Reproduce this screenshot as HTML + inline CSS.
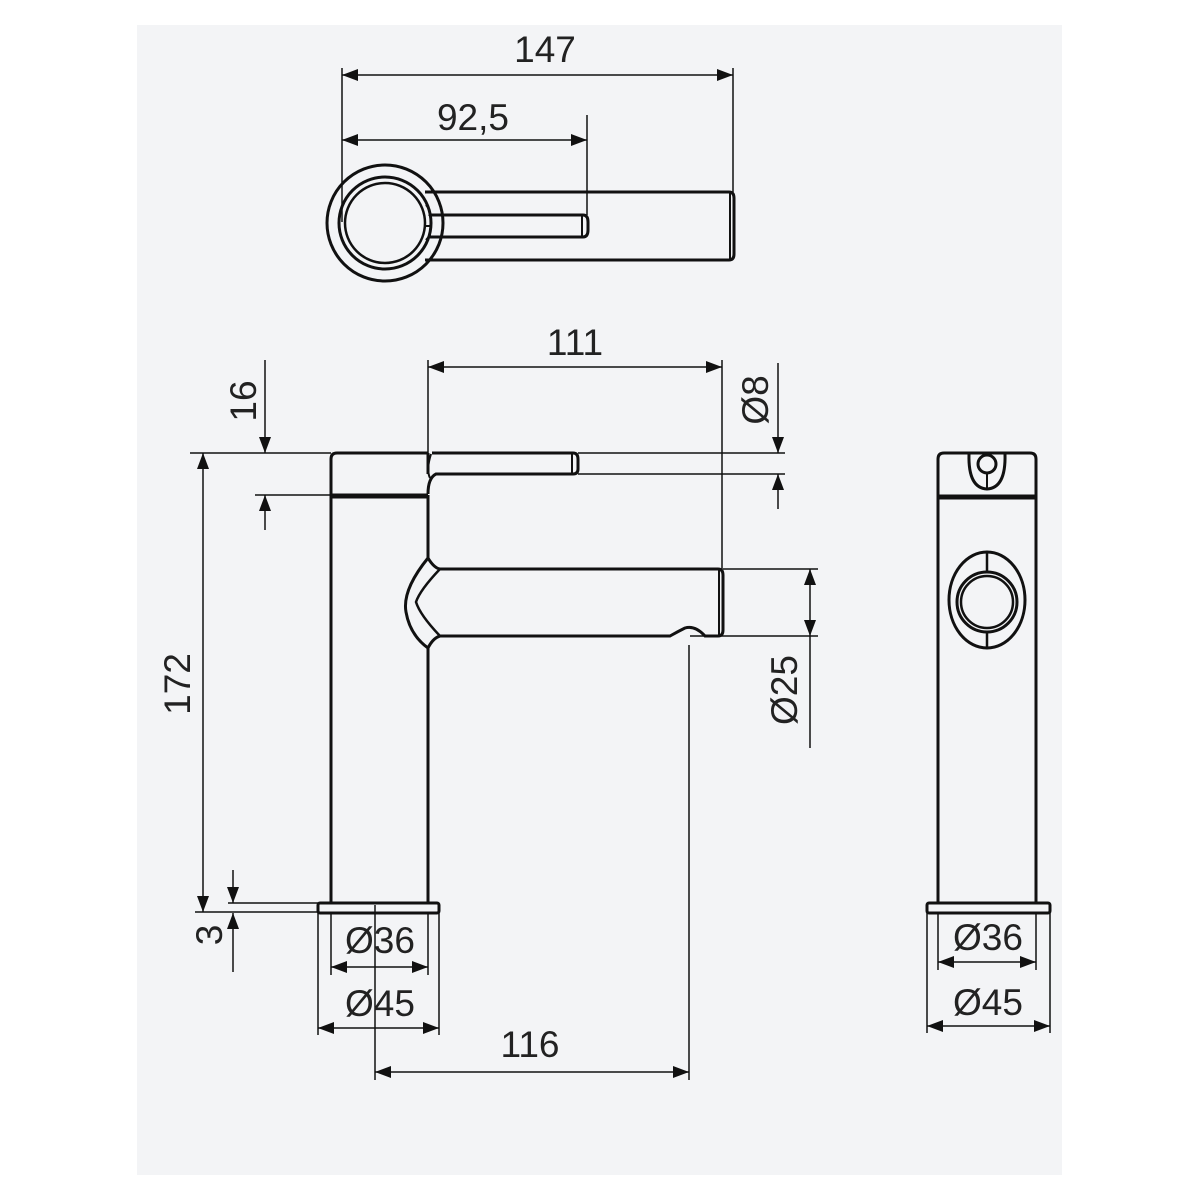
<!DOCTYPE html>
<html><head><meta charset="utf-8"><style>
html,body{margin:0;padding:0;background:#fff;}
svg{display:block;}
text{font-family:"Liberation Sans",Arial,sans-serif;font-size:37px;fill:#222;}
</style></head><body>
<svg width="1200" height="1200" viewBox="0 0 1200 1200" xmlns="http://www.w3.org/2000/svg">
<defs>
<marker id="a" viewBox="0 0 16 12" refX="16" refY="6" markerWidth="16" markerHeight="12" markerUnits="userSpaceOnUse" orient="auto-start-reverse"><path d="M0,0 L16,6 L0,12 Z" fill="#111"/></marker>
</defs>
<rect x="137" y="25" width="925" height="1150" fill="#f3f4f6"/>
<g fill="none" stroke="#111">
<!-- TOP VIEW -->
<g stroke-width="3">
<circle cx="385" cy="223" r="58"/>
<circle cx="385" cy="223" r="46"/>
<circle cx="385" cy="223" r="40" stroke-width="2.5"/>
<path d="M425,192 H729 Q734,192 734,198 V254 Q734,260 729,260 H425"/>
<path d="M730,193 V259" stroke-width="2"/>
<path d="M430,215 H583 Q588,215 588,222 V230 Q588,237 583,237 H430"/>
<path d="M582,216 V236" stroke-width="2"/>
<path d="M426,205 Q432,212 429,216 M426,240 Q432,233 429,236 M424,226 H430" stroke-width="2"/>
</g>
<g stroke-width="1.5">
<path d="M342,68 V222 M733,68 V192 M587,115 V215"/>
<path d="M342,75 H733" marker-start="url(#a)" marker-end="url(#a)"/>
<path d="M342,140 H587" marker-start="url(#a)" marker-end="url(#a)"/>
</g>
<!-- FRONT VIEW -->
<g stroke-width="3">
<path d="M331,903 V459 Q331,453 337,453 H428"/>
<path d="M428,453 V474 M428,495 V558"/>
<path d="M432,453 H573 Q578,453 578,459 V469 Q578,474 573,474 H436 Q428,478 428,494"/>
<path d="M572,454 V473" stroke-width="2"/>
<path d="M431,454 Q426,470 430,478" stroke-width="2"/>
<rect x="331" y="494" width="97" height="4" fill="#111" stroke="none"/>
<path d="M331,496 H428" stroke-width="5"/>
<path d="M428,558 Q434,568 440,569 H718 Q723,569 723,575 V630 Q723,636 718,636 H705 Q695,625 685,628 Q677,632 670,636 H440 Q433,638 428,648 V903"/>
<path d="M719,570 V635" stroke-width="2"/>
<path d="M428,558 Q402,590 406,612 Q410,635 428,648"/>
<path d="M440,569 Q420,590 416,602 Q420,615 440,636" stroke-width="2.5"/>
<rect x="318" y="903" width="121" height="10" rx="2"/>
</g>
<g stroke-width="1.5">
<!-- 111 -->
<path d="M428,360 V453 M722,360 V569"/>
<path d="M428,367 H722" marker-start="url(#a)" marker-end="url(#a)"/>
<!-- horizontal extension lines -->
<path d="M190,453 H331 M578,453 H785 M255,495 H331 M578,474 H785"/>
<!-- 16 -->
<path d="M265,360 V453" marker-end="url(#a)"/>
<path d="M265,530 V495" marker-end="url(#a)"/>
<!-- Ø8 -->
<path d="M778,363 V453" marker-end="url(#a)"/>
<path d="M778,509 V474" marker-end="url(#a)"/>
<!-- 172 -->
<path d="M203,453 V912" marker-start="url(#a)" marker-end="url(#a)"/>
<!-- 3 -->
<path d="M195,912 H318 M228,903 H318"/>
<path d="M233,870 V903" marker-end="url(#a)"/>
<path d="M233,972 V913" marker-end="url(#a)"/>
<!-- Ø25 -->
<path d="M723,569 H818 M690,636 H818"/>
<path d="M810,603 V569" marker-end="url(#a)"/>
<path d="M810,603 V636" marker-end="url(#a)"/>
<path d="M810,636 V748"/>
<!-- Ø36 Ø45 -->
<path d="M331,913 V975 M428,913 V975 M318,913 V1035 M439,913 V1035"/>
<path d="M331,967 H428" marker-start="url(#a)" marker-end="url(#a)"/>
<path d="M318,1028 H439" marker-start="url(#a)" marker-end="url(#a)"/>
<!-- 116 -->
<path d="M375,905 V1080 M689,645 V1080"/>
<path d="M375,1072 H689" marker-start="url(#a)" marker-end="url(#a)"/>
</g>
<!-- SIDE VIEW -->
<g stroke-width="3">
<path d="M938,903 V459 Q938,453 944,453 H1030 Q1036,453 1036,459 V903"/>
<path d="M938,497 H1036" stroke-width="5"/>
<path d="M969,454 Q968,488 987,489 Q1006,488 1005,454"/>
<circle cx="987" cy="464" r="9"/>
<path d="M987,473 V489" stroke-width="2"/>
<ellipse cx="987" cy="600" rx="38" ry="48"/>
<circle cx="987" cy="602" r="30"/>
<circle cx="987" cy="602" r="26" stroke-width="2.5"/>
<path d="M987,552 V572 M987,632 V648" stroke-width="2.5"/>
<rect x="927" y="903" width="123" height="10" rx="2"/>
</g>
<g stroke-width="1.5">
<path d="M938,913 V970 M1036,913 V970 M927,913 V1033 M1050,913 V1033"/>
<path d="M938,962 H1036" marker-start="url(#a)" marker-end="url(#a)"/>
<path d="M927,1026 H1050" marker-start="url(#a)" marker-end="url(#a)"/>
</g>
</g>
<!-- LABELS -->
<text x="545" y="62" text-anchor="middle">147</text>
<text x="473" y="130" text-anchor="middle">92,5</text>
<text x="575" y="355" text-anchor="middle">111</text>
<text transform="translate(256,401) rotate(-90)" text-anchor="middle">16</text>
<text transform="translate(768,400) rotate(-90)" text-anchor="middle">Ø8</text>
<text transform="translate(190,684) rotate(-90)" text-anchor="middle">172</text>
<text transform="translate(222,935) rotate(-90)" text-anchor="middle">3</text>
<text transform="translate(797,690) rotate(-90)" text-anchor="middle">Ø25</text>
<text x="380" y="953" text-anchor="middle">Ø36</text>
<text x="380" y="1016" text-anchor="middle">Ø45</text>
<text x="530" y="1057" text-anchor="middle">116</text>
<text x="988" y="950" text-anchor="middle">Ø36</text>
<text x="988" y="1015" text-anchor="middle">Ø45</text>
</svg>
</body></html>
